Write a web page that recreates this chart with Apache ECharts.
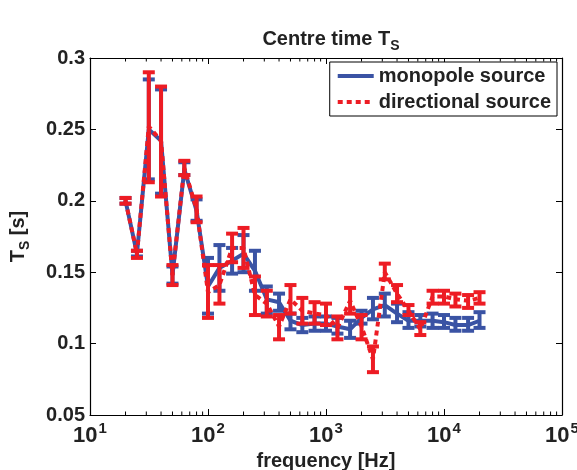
<!DOCTYPE html>
<html>
<head>
<meta charset="utf-8">
<script src="https://cdn.jsdelivr.net/npm/echarts@6/dist/echarts.min.js"></script>
<style>
  html, body { margin: 0; padding: 0; background: #fff; }
  #chart { width: 577px; height: 470px; }
</style>
</head>
<body>
<div id="chart"></div>
<script>
// third-octave band centre frequencies [Hz]
const freqs = [20, 25, 31.5, 40, 50, 63, 80, 100, 125, 160, 200, 250, 315, 400, 500, 630,
  800, 1000, 1250, 1600, 2000, 2500, 3150, 4000, 5000, 6300, 8000, 10000, 12500, 16000, 20000]

// monopole source
const monoMean = [0.200, 0.163, 0.250, 0.242, 0.148, 0.222, 0.193, 0.140, 0.153, 0.158, 0.163, 0.151, 0.131, 0.129, 0.116, 0.113,
  0.114, 0.114, 0.112, 0.110, 0.118, 0.124, 0.127, 0.121, 0.116, 0.116, 0.116, 0.115, 0.113, 0.113, 0.116]
const monoLow = [0.198, 0.161, 0.215, 0.205, 0.142, 0.218, 0.186, 0.121, 0.137, 0.149, 0.150, 0.137, 0.121, 0.123, 0.110, 0.108,
  0.109, 0.109, 0.107, 0.104, 0.114, 0.117, 0.119, 0.115, 0.111, 0.112, 0.111, 0.111, 0.109, 0.109, 0.111]
const monoHigh = [0.202, 0.165, 0.285, 0.278, 0.154, 0.227, 0.201, 0.160, 0.169, 0.167, 0.176, 0.165, 0.140, 0.135, 0.121, 0.118,
  0.119, 0.119, 0.118, 0.116, 0.123, 0.132, 0.135, 0.128, 0.122, 0.120, 0.121, 0.120, 0.118, 0.118, 0.122]

// directional source
const dirMean = [0.200, 0.163, 0.252, 0.242, 0.148, 0.223, 0.194, 0.136, 0.141, 0.167, 0.167, 0.134, 0.128, 0.112, 0.131, 0.123,
  0.121, 0.120, 0.111, 0.130, 0.112, 0.089, 0.150, 0.135, 0.123, 0.110, 0.133, 0.133, 0.131, 0.130, 0.132]
const dirLow = [0.198, 0.160, 0.213, 0.203, 0.141, 0.218, 0.185, 0.118, 0.128, 0.157, 0.153, 0.120, 0.119, 0.103, 0.121, 0.114,
  0.114, 0.113, 0.103, 0.121, 0.103, 0.080, 0.145, 0.129, 0.120, 0.106, 0.128, 0.128, 0.126, 0.125, 0.128]
const dirHigh = [0.202, 0.165, 0.290, 0.280, 0.155, 0.228, 0.203, 0.155, 0.155, 0.177, 0.181, 0.147, 0.137, 0.120, 0.141, 0.132,
  0.129, 0.128, 0.119, 0.139, 0.120, 0.098, 0.156, 0.141, 0.127, 0.115, 0.137, 0.137, 0.135, 0.134, 0.136]

const xMin = 10
const xMax = 100000
const yTicks = [0.05, 0.1, 0.15, 0.2, 0.25, 0.3]

// minor ticks of the log axis (2..9 per decade)
const minorTicks = []
for (let d = 10; d < xMax; d *= 10) {
  for (let k = 2; k <= 9; k++) minorTicks.push(d * k)
}

const BLUE = '#3a53a4'
const RED = '#ed1c24'
const TXT = '#222'
const FONT = 'Liberation Sans, Arial, sans-serif'

function errorBars(color) {
  return function (params, api) {
    const f = api.value(0)
    const top = api.coord([f, api.value(2)])
    const bot = api.coord([f, api.value(1)])
    const cap = 6
    const style = { stroke: color, lineWidth: 4 }
    return {
      type: 'group',
      children: [
        { type: 'line', shape: { x1: top[0], y1: top[1], x2: bot[0], y2: bot[1] }, style },
        { type: 'line', shape: { x1: top[0] - cap, y1: top[1], x2: top[0] + cap, y2: top[1] }, style },
        { type: 'line', shape: { x1: bot[0] - cap, y1: bot[1], x2: bot[0] + cap, y2: bot[1] }, style }
      ]
    }
  }
}

const chart = echarts.init(document.getElementById('chart'), null, { renderer: 'canvas' })

const axisLineStyle = { color: '#000', width: 1.2 }
const subStyle = { fontFamily: FONT, fontSize: 14, fontWeight: 'bold', color: TXT, padding: [14, 0, 0, 0] }

const option = {
  animation: false,
  backgroundColor: '#fff',
  title: {
    text: 'Centre time T{s|S}',
    left: 326,
    textAlign: 'center',
    top: 20,
    textStyle: {
      fontFamily: FONT,
      fontSize: 20,
      fontWeight: 'bold',
      color: TXT,
      rich: { s: subStyle }
    }
  },
  legend: {
    data: ['monopole source', 'directional source'],
    orient: 'vertical',
    right: 20,
    top: 62,
    itemWidth: 36,
    itemHeight: 20,
    itemGap: 6,
    padding: [4, 6, 4, 6],
    backgroundColor: '#fff',
    borderColor: '#000',
    borderWidth: 1,
    borderRadius: 0,
    itemStyle: { opacity: 0 },
    lineStyle: { width: 4 },
    textStyle: { fontFamily: FONT, fontSize: 20, fontWeight: 'bold', color: TXT }
  },
  grid: { left: 90, right: 15, top: 58, bottom: 55, outerBoundsMode: 'none' },
  xAxis: [
    {
      type: 'log',
      logBase: 10,
      min: xMin,
      max: xMax,
      name: 'frequency [Hz]',
      nameLocation: 'middle',
      nameGap: 32,
      nameTextStyle: { fontFamily: FONT, fontSize: 20, fontWeight: 'bold', color: TXT },
      axisLine: { lineStyle: axisLineStyle },
      axisTick: { inside: true, length: 6, lineStyle: { color: '#000' } },
      splitLine: { show: false },
      axisLabel: {
        margin: 6,
        formatter: v => '{b|10}{e|' + Math.round(Math.log10(v)) + '}',
        rich: {
          b: { fontFamily: FONT, fontSize: 22, fontWeight: 'bold', color: TXT },
          e: { fontFamily: FONT, fontSize: 15, fontWeight: 'bold', color: TXT, padding: [0, 0, 14, 1] }
        }
      }
    },
    {
      type: 'log',
      logBase: 10,
      min: xMin,
      max: xMax,
      position: 'top',
      axisLine: { lineStyle: axisLineStyle },
      axisTick: { inside: true, length: 6, lineStyle: { color: '#000' } },
      axisLabel: { show: false },
      splitLine: { show: false }
    }
  ],
  yAxis: [
    {
      type: 'value',
      min: yTicks[0],
      max: yTicks[yTicks.length - 1],
      interval: 0.05,
      name: 'T{s|S} [s]',
      nameLocation: 'middle',
      nameRotate: 90,
      nameGap: 58,
      nameTextStyle: {
        fontFamily: FONT, fontSize: 20, fontWeight: 'bold', color: TXT,
        rich: { s: subStyle }
      },
      axisLine: { show: true, lineStyle: axisLineStyle },
      axisTick: { show: true, inside: true, length: 6, lineStyle: { color: '#000' } },
      splitLine: { show: false },
      axisLabel: {
        margin: 5,
        fontFamily: FONT, fontSize: 20, fontWeight: 'bold', color: TXT,
        formatter: v => String(+v.toFixed(2))
      }
    },
    {
      type: 'value',
      min: yTicks[0],
      max: yTicks[yTicks.length - 1],
      interval: 0.05,
      position: 'right',
      axisLine: { show: true, lineStyle: axisLineStyle },
      axisTick: { show: true, inside: true, length: 6, lineStyle: { color: '#000' } },
      axisLabel: { show: false },
      splitLine: { show: false }
    }
  ],
  series: [
    {
      name: 'minor ticks',
      type: 'custom',
      silent: true,
      clip: false,
      data: minorTicks.map(f => [f]),
      renderItem: function (params, api) {
        const f = api.value(0)
        const b = api.coord([f, 0.05])
        const t = api.coord([f, 0.3])
        const style = { stroke: '#000', lineWidth: 1 }
        return {
          type: 'group',
          children: [
            { type: 'line', shape: { x1: b[0], y1: b[1], x2: b[0], y2: b[1] - 3.5 }, style },
            { type: 'line', shape: { x1: t[0], y1: t[1], x2: t[0], y2: t[1] + 3.5 }, style }
          ]
        }
      }
    },
    {
      name: 'monopole source',
      type: 'line',
      data: freqs.map((f, i) => [f, monoMean[i]]),
      symbol: 'none',
      color: BLUE,
      lineStyle: { color: BLUE, width: 4 },
      z: 3
    },
    {
      name: 'monopole err',
      type: 'custom',
      data: freqs.map((f, i) => [f, monoLow[i], monoHigh[i]]),
      renderItem: errorBars(BLUE),
      z: 3
    },
    {
      name: 'directional source',
      type: 'line',
      data: freqs.map((f, i) => [f, dirMean[i]]),
      symbol: 'none',
      color: RED,
      lineStyle: { color: RED, width: 4, type: [5, 4] },
      z: 4
    },
    {
      name: 'directional err',
      type: 'custom',
      data: freqs.map((f, i) => [f, dirLow[i], dirHigh[i]]),
      renderItem: errorBars(RED),
      z: 4
    }
  ]
}

chart.setOption(option)
</script>
</body>
</html>
